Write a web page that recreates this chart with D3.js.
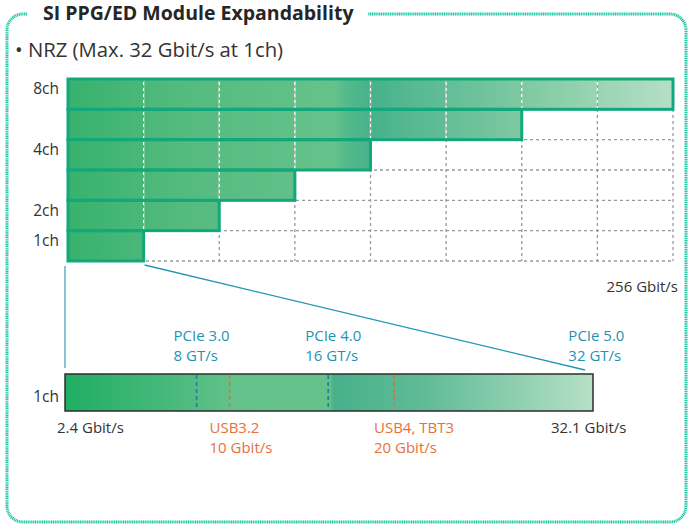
<!DOCTYPE html>
<html>
<head>
<meta charset="utf-8">
<script src="https://cdn.jsdelivr.net/npm/d3@7"></script>
<style>
  html, body { margin: 0; padding: 0; background: #fff; }
  svg { display: block; font-family: "Open Sans", "Noto Sans", sans-serif; }
</style>
</head>
<body>
<svg id="chart" width="688" height="525"></svg>
<script>
// ---------- data ----------
const title = "SI PPG/ED Module Expandability";
const subtitle = "• NRZ (Max. 32 Gbit/s at 1ch)";
const channels = [8, 6, 4, 3, 2, 1];            // bar rows, top to bottom
const channelLabels = [8, 4, 2, 1];              // labelled rows
const perChannelGbps = 32;                       // Gbit/s per channel
const maxTotalGbps = 256;
const topAxisLabel = "256 Gbit/s";
const oneChMin = 2.4, oneChMax = 32.1;
const pcieMarkers = [
  { name: "PCIe 3.0", rate: "8 GT/s", value: 8, line: true },
  { name: "PCIe 4.0", rate: "16 GT/s", value: 16, line: true },
  { name: "PCIe 5.0", rate: "32 GT/s", value: 32, line: false }
];
const usbMarkers = [
  { name: "USB3.2", rate: "10 Gbit/s", value: 10 },
  { name: "USB4, TBT3", rate: "20 Gbit/s", value: 20 }
];

(function () {
const svg = d3.select("#chart");
const defs = svg.append("defs");

function addGrad(id, x1, x2, stops) {
  const g = defs.append("linearGradient").attr("id", id)
    .attr("gradientUnits", "userSpaceOnUse")
    .attr("x1", x1).attr("x2", x2).attr("y1", 0).attr("y2", 0);
  stops.forEach(s => g.append("stop").attr("offset", s[0]).attr("stop-color", s[1]));
}

// frame
const fL = 7, fT = 14, fR = 686, fB = 522, r = 16;
const framePath = d3.path();
framePath.moveTo(27, fT);
framePath.lineTo(fL + r, fT);
framePath.arcTo(fL, fT, fL, fT + r, r);
framePath.lineTo(fL, fB - r);
framePath.arcTo(fL, fB, fL + r, fB, r);
framePath.lineTo(fR - r, fB);
framePath.arcTo(fR, fB, fR, fB - r, r);
framePath.lineTo(fR, fT + r);
framePath.arcTo(fR, fT, fR - r, fT, r);
framePath.lineTo(368, fT);
svg.append("path").attr("d", framePath.toString())
  .attr("fill", "none").attr("stroke", "#22c6a2").attr("stroke-width", 3)
  .attr("stroke-dasharray", "1.2 0.6");

svg.append("text").attr("x", 43).attr("y", 20)
  .attr("font-size", 19.5).attr("font-weight", 700).attr("fill", "#262626")
  .text(title);
svg.append("text").attr("x", 15).attr("y", 57)
  .attr("font-size", 20.3).attr("fill", "#333")
  .text(subtitle);

// ---------- top chart ----------
const xTop = d3.scaleLinear().domain([0, maxTotalGbps]).range([68, 673]);
const yTop = d3.scaleBand().domain(channels).range([79, 261]).padding(0);

addGrad("gTop", xTop(0), xTop(maxTotalGbps), [
  [0, "#38b26e"], [0.2, "#55bb7f"], [0.44, "#66c28b"], [0.46, "#55b98b"],
  [0.5, "#47b28b"], [0.75, "#7ec9a2"], [1, "#b6dfc5"]
]);

const topG = svg.append("g");
topG.selectAll("rect.fill").data(channels).join("rect")
  .attr("class", "fill")
  .attr("x", xTop(0)).attr("y", d => yTop(d))
  .attr("width", d => xTop(d * perChannelGbps) - xTop(0))
  .attr("height", yTop.bandwidth())
  .attr("fill", "url(#gTop)");

// grid
const colTicks = d3.range(1, maxTotalGbps / perChannelGbps + 1).map(k => k * perChannelGbps);
const rowEdges = channels.map(c => yTop(c) + yTop.bandwidth());
const gridSegs = colTicks.map(t => ({ x1: xTop(t), x2: xTop(t), y1: yTop.range()[0], y2: yTop.range()[1] }))
  .concat(rowEdges.map(y => ({ x1: xTop(0), x2: xTop(maxTotalGbps), y1: y, y2: y })));
const grid = topG.append("g");
grid.selectAll("line.base").data(gridSegs).join("line").attr("class", "base")
  .attr("x1", d => d.x1).attr("x2", d => d.x2).attr("y1", d => d.y1).attr("y2", d => d.y2)
  .attr("stroke", "#fff").attr("stroke-width", 1.3);
grid.selectAll("line.dash").data(gridSegs).join("line").attr("class", "dash")
  .attr("x1", d => d.x1).attr("x2", d => d.x2).attr("y1", d => d.y1).attr("y2", d => d.y2)
  .attr("stroke", "#9a9a9a").attr("stroke-width", 1.3).attr("stroke-dasharray", "3 3");

topG.selectAll("rect.outline").data(channels).join("rect")
  .attr("class", "outline")
  .attr("x", xTop(0)).attr("y", d => yTop(d))
  .attr("width", d => xTop(d * perChannelGbps) - xTop(0))
  .attr("height", yTop.bandwidth())
  .attr("fill", "none").attr("stroke", "#13a77c").attr("stroke-width", 3);

// row labels
const yAxis = d3.axisLeft(yTop).tickValues(channelLabels).tickSize(0).tickPadding(9)
  .tickFormat(d => d + "ch");
const ya = svg.append("g").attr("transform", `translate(${xTop(0)},0)`).call(yAxis);
ya.select(".domain").remove();
ya.selectAll("text").attr("font-size", 15.5).attr("fill", "#333")
  .attr("font-family", "Open Sans, Noto Sans, sans-serif").attr("dy", "0em");

svg.append("text").attr("x", 678).attr("y", 292).attr("text-anchor", "end")
  .attr("font-size", 15).attr("fill", "#333").text(topAxisLabel);

// ---------- bottom (1ch zoom) ----------
const xBot = d3.scaleLinear().domain([0, oneChMax]).range([65, 593]);
const barTop = 374, barBot = 411;

svg.append("line").attr("x1", xBot(0)).attr("x2", xBot(0))
  .attr("y1", 266).attr("y2", 368)
  .attr("stroke", "#45a9c2").attr("stroke-width", 1.3);
svg.append("line").attr("x1", xTop(perChannelGbps) + 1).attr("y1", 265)
  .attr("x2", xBot(oneChMax) - 8).attr("y2", 370)
  .attr("stroke", "#2196b3").attr("stroke-width", 1.3);

addGrad("gBot", xBot(0), xBot(oneChMax), [
  [0, "#1fae64"], [0.2, "#49b97b"], [0.32, "#63c28a"], [0.5, "#66c28b"],
  [0.51, "#47b18b"], [0.68, "#60bb97"], [1, "#b6e0c6"]
]);

svg.append("rect").attr("x", xBot(0)).attr("y", barTop)
  .attr("width", xBot(oneChMax) - xBot(0)).attr("height", barBot - barTop)
  .attr("fill", "url(#gBot)").attr("stroke", "#2e2e2e").attr("stroke-width", 1.5);

svg.selectAll("line.pcie").data(pcieMarkers.filter(d => d.line)).join("line")
  .attr("class", "pcie")
  .attr("x1", d => xBot(d.value)).attr("x2", d => xBot(d.value))
  .attr("y1", barTop + 1).attr("y2", barBot - 1)
  .attr("stroke", "#1c7f9e").attr("stroke-width", 1.6).attr("stroke-dasharray", "4 3");
svg.selectAll("line.usb").data(usbMarkers).join("line")
  .attr("class", "usb")
  .attr("x1", d => xBot(d.value)).attr("x2", d => xBot(d.value))
  .attr("y1", barTop + 1).attr("y2", barBot - 1)
  .attr("stroke", "#e0733a").attr("stroke-width", 1.6).attr("stroke-dasharray", "4 3");

const pl = svg.selectAll("g.plab").data(pcieMarkers).join("g").attr("class", "plab")
  .attr("transform", d => `translate(${xBot(d.value) - 23},0)`);
pl.append("text").attr("y", 341).text(d => d.name);
pl.append("text").attr("y", 361).text(d => d.rate);
pl.selectAll("text").attr("font-size", 15).attr("fill", "#1f93b0");

const ul = svg.selectAll("g.ulab").data(usbMarkers).join("g").attr("class", "ulab")
  .attr("transform", d => `translate(${xBot(d.value) - 20},0)`);
ul.append("text").attr("y", 433).text(d => d.name);
ul.append("text").attr("y", 453).text(d => d.rate);
ul.selectAll("text").attr("font-size", 15).attr("fill", "#e8703a");

svg.append("text").attr("x", 59).attr("y", 402).attr("text-anchor", "end")
  .attr("font-size", 15.5).attr("fill", "#333").text("1ch");
svg.append("text").attr("x", 57).attr("y", 433)
  .attr("font-size", 15).attr("fill", "#333").text(oneChMin + " Gbit/s");
svg.append("text").attr("x", 551).attr("y", 433)
  .attr("font-size", 15).attr("fill", "#333").text(oneChMax + " Gbit/s");
})();
</script>
</body>
</html>
